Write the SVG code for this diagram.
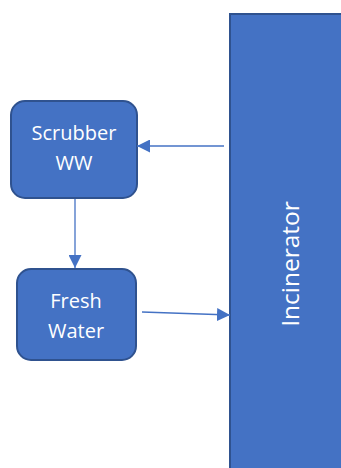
<svg xmlns="http://www.w3.org/2000/svg" width="341" height="468" viewBox="0 0 341 468">
<defs>
<style>
.box{fill:#4472C4;stroke:#2F528F;stroke-width:2}
.t{fill:#FFFFFF;font-family:"Open Sans","Noto Sans",sans-serif;font-size:20px;text-anchor:middle}
.c{stroke:#4472C4;stroke-width:1.3;fill:none}
</style>
<marker id="ah" viewBox="0 0 10 10" refX="10" refY="5" markerWidth="13" markerHeight="13" markerUnits="userSpaceOnUse" orient="auto">
<path d="M0,0 L10,5 L0,10 Z" fill="#4472C4"/>
</marker>
</defs>
<rect width="341" height="468" fill="#FFFFFF"/>
<g id="incinerator">
<rect class="box" x="230" y="14" width="115" height="460"/>
<text class="t" style="font-size:24.5px" transform="translate(298.5,264) rotate(-90)">Incinerator</text>
</g>
<g id="scrubber">
<rect class="box" x="11" y="101" width="126" height="97" rx="14"/>
<text class="t" x="74" y="140">Scrubber</text>
<text class="t" x="74" y="170">WW</text>
</g>
<g id="fresh">
<rect class="box" x="17" y="269" width="119" height="91" rx="14"/>
<text class="t" x="76" y="308">Fresh</text>
<text class="t" x="76" y="338">Water</text>
</g>
<g id="connectors">
<line class="c" x1="224" y1="146" x2="137" y2="146" marker-end="url(#ah)"/>
<line class="c" x1="75" y1="199" x2="75" y2="268" marker-end="url(#ah)"/>
<line class="c" x1="142" y1="312" x2="230" y2="315" marker-end="url(#ah)"/>
</g>
</svg>
